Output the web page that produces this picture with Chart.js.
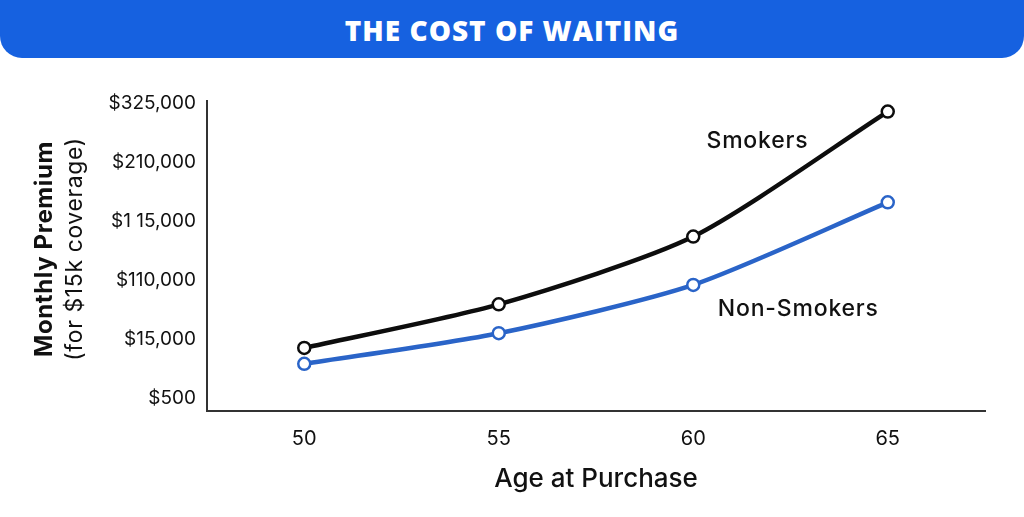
<!DOCTYPE html>
<html>
<head>
<meta charset="utf-8">
<script src="https://cdn.jsdelivr.net/npm/chart.js@4.4.1/dist/chart.umd.min.js"></script>
<style>
    html, body { margin: 0; padding: 0; background: #fff; }
    #wrap { position: relative; width: 1024px; height: 517px; overflow: hidden; }
    #banner {
        position: absolute; left: 0; top: 0; width: 1024px; height: 58px;
        background: #1661e0; border-radius: 0 0 22px 22px;
        color: #fff; font: 800 28px "Open Sans", Inter, sans-serif;
        text-align: center; line-height: 60px; letter-spacing: 1px; z-index: 2;
    }
    canvas { position: absolute; left: 0; top: 0; }
</style>
</head>
<body>
<div id="wrap">
    <div id="banner">THE COST OF WAITING</div>
    <canvas id="costChart" width="1024" height="517"></canvas>
</div>
<script>
// ages on the x axis
const ages = ['50', '55', '60', '65'];
// y tick labels, bottom to top (the chart spaces them evenly)
const yTickLabels = ['$500', '$15,000', '$110,000', '$1 15,000', '$210,000', '$325,000'];
// values are positions on that evenly spaced label scale
const smokers = [0.85, 1.59, 2.74, 4.86];
const nonSmokers = [0.58, 1.10, 1.92, 3.32];

const FONT = 'Inter, "Open Sans", sans-serif';

// series name labels drawn near the lines
const seriesLabels = [
    { text: 'Smokers', x: 2.33, y: 4.36 },
    { text: 'Non-Smokers', x: 2.54, y: 1.51 }
];

const annotate = {
    id: 'annotate',
    afterDraw(chart) {
        const ctx = chart.ctx;
        const xs = chart.scales.x, ys = chart.scales.y;
        ctx.save();
        ctx.fillStyle = '#111';
        ctx.textAlign = 'center';
        ctx.textBaseline = 'middle';
        ctx.font = '500 23px ' + FONT;
        ctx.letterSpacing = '0.8px';
        seriesLabels.forEach(l => {
            ctx.fillText(l.text, xs.getPixelForValue(l.x), ys.getPixelForValue(l.y));
        });

        // two-line y axis title, different weights
        ctx.translate(45, 249);
        ctx.rotate(-Math.PI / 2);
        ctx.font = '700 24px ' + FONT;
        ctx.letterSpacing = '0.6px';
        ctx.fillText('Monthly Premium', 0, 0);
        ctx.font = '400 23px ' + FONT;
        ctx.fillText('(for $15k coverage)', 0, 30);
        ctx.restore();
    }
};

const lineCommon = {
    borderWidth: 4.5,
    tension: 0.24,
    pointRadius: 6,
    pointBorderWidth: 2.5,
    pointBackgroundColor: '#fff',
    pointHoverRadius: 6
};

new Chart(document.getElementById('costChart'), {
    type: 'line',
    data: {
        labels: ages,
        datasets: [
            Object.assign({ label: 'Smokers', data: smokers, borderColor: '#0d0d0d', pointBorderColor: '#0d0d0d' }, lineCommon),
            Object.assign({ label: 'Non-Smokers', data: nonSmokers, borderColor: '#2a64c8', pointBorderColor: '#2a64c8' }, lineCommon)
        ]
    },
    options: {
        responsive: false,
        animation: false,
        layout: { padding: { top: 101, right: 39, left: 0, bottom: 22 } },
        plugins: { legend: { display: false }, tooltip: { enabled: false } },
        scales: {
            x: {
                offset: true,
                grid: { display: false, drawTicks: false },
                border: { color: '#333', width: 2 },
                ticks: { color: '#111', font: { family: FONT, size: 20 }, padding: 16 },
                title: {
                    display: true, text: 'Age at Purchase', color: '#111',
                    font: { family: FONT, size: 26, weight: '500' },
                    padding: { top: 17, bottom: 0 }
                },
                afterFit(scale) { scale.height = 84; }
            },
            y: {
                min: -0.22,
                max: 5.04,
                grid: { display: false, drawTicks: false },
                border: { color: '#333', width: 2 },
                afterBuildTicks(scale) {
                    scale.ticks = yTickLabels.map((_, i) => ({ value: i }));
                },
                ticks: {
                    color: '#111', font: { family: FONT, size: 19 }, padding: 11,
                    callback: v => yTickLabels[v]
                },
                afterFit(scale) { scale.width = 207; }
            }
        }
    },
    plugins: [annotate]
});
</script>
</body>
</html>
